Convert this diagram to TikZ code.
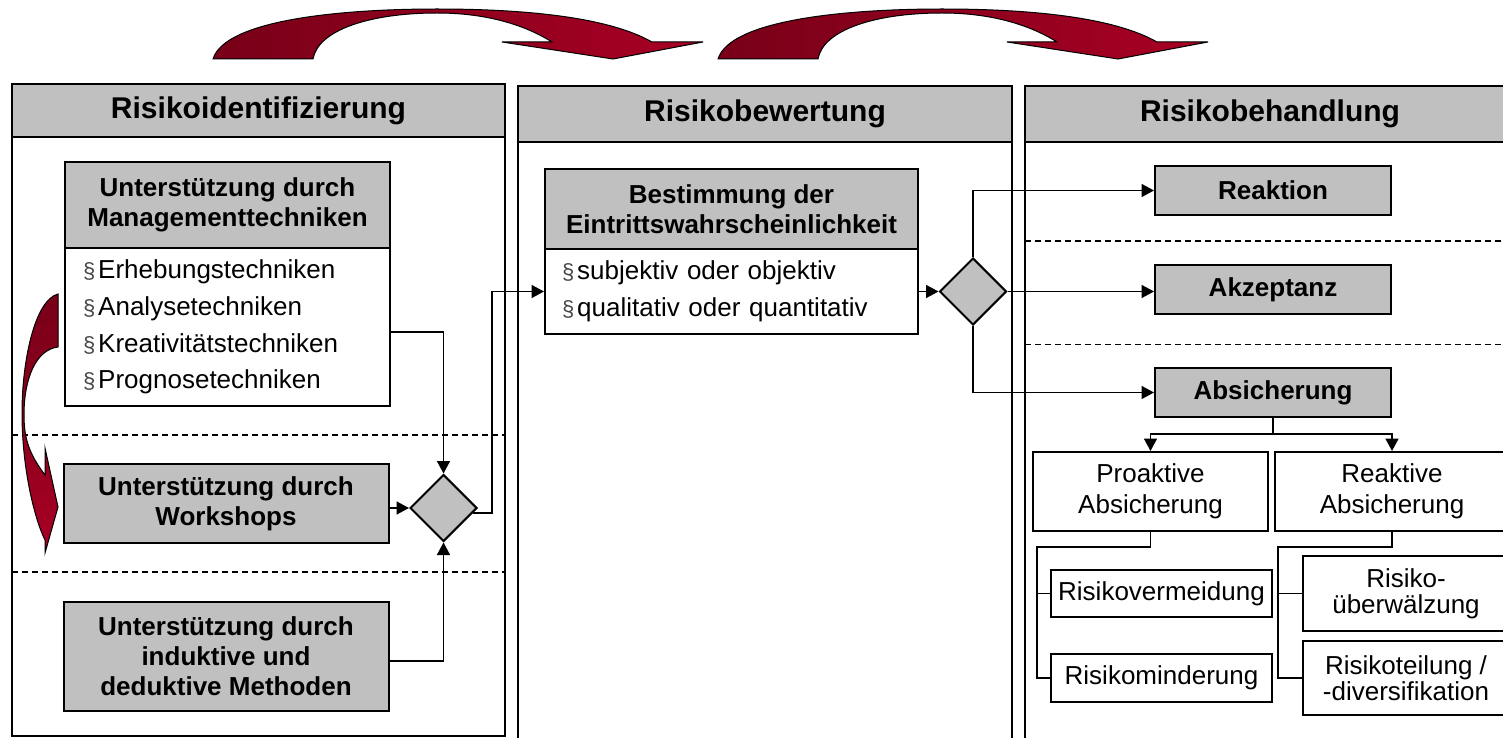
\documentclass[tikz,border=0pt]{standalone}
\usepackage{fontspec}
\setmainfont{Liberation Sans}
\usetikzlibrary{arrows.meta,shapes.geometric}
\definecolor{boxgray}{RGB}{192,192,192}
\definecolor{ribbondark}{RGB}{120,0,24}
\definecolor{ribbonlight}{RGB}{168,0,36}
\definecolor{bulgray}{RGB}{70,70,70}
\newcommand{\bulsym}{{\color{bulgray}\fontsize{22}{22}\selectfont §}\hspace{3pt}}

\begin{document}
\begin{tikzpicture}[x=1pt,y=-1pt,
  frame/.style={draw, line width=2pt},
  headbox/.style={draw, line width=2pt, fill=boxgray, inner sep=0pt,
    font=\bfseries\fontsize{30}{34}\selectfont},
  graybox/.style={draw, line width=2pt, fill=boxgray, inner sep=0pt, align=center,
    font=\bfseries\fontsize{26}{30}\selectfont},
  listbox/.style={draw, line width=2pt, fill=white, inner ysep=0pt, align=left,
    font=\fontsize{26}{36.7}\selectfont},
  plainbox/.style={draw, line width=2pt, fill=white, inner sep=0pt, align=center,
    font=\fontsize{26}{31}\selectfont},
  gate/.style={diamond, draw, line width=2pt, fill=boxgray, inner sep=0pt,
    minimum width=67pt, minimum height=67pt},
  link/.style={line width=1.6pt},
  arrowlink/.style={link, -{Triangle[length=12.5pt,width=13pt]}},
  sep/.style={line width=1.5pt, dash pattern=on 6pt off 4pt},
  ribbon/.style={draw=black, line width=1pt},
  ribbon top/.pic={
    \path[ribbon, left color=ribbondark, right color=ribbonlight]
      (213,59) .. controls (225,20) and (340,9) .. (437,9)
      .. controls (530,9) and (610,18) .. (652,42)
      -- (703,42) -- (613,59) -- (502,42) -- (552,42)
      .. controls (520,22) and (480,13) .. (437,13)
      .. controls (370,13) and (318,30) .. (313,59) -- cycle;
  }
]
\useasboundingbox (0,0) rectangle (1503,738);

% phase panels
\draw[frame] (12,84) rectangle (505,736);
\draw[frame] (518,86) rectangle (1012,760);
\draw[frame] (1025,86) rectangle (1515,760);

% lane separators
\draw[sep] (12,435) -- (505,435);
\draw[sep] (12,572) -- (505,572);
\draw[sep] (1025,241) -- (1515,241);
\draw[sep] (1025,344.5) -- (1515,344.5);

% panel headers
\node[headbox, minimum width=493pt, minimum height=53pt] (h1) at (258.5,110.5) {Risikoidentifizierung};
\node[headbox, minimum width=494pt, minimum height=56pt] (h2) at (765,114) {Risikobewertung};
\node[headbox, minimum width=490pt, minimum height=56pt] (h3) at (1270,114) {Risikobehandlung};

% identification
\node[graybox, minimum width=325pt, minimum height=86pt] (mh) at (227.5,205)
  {Unterstützung durch\\Managementtechniken};
\node[listbox, inner xsep=18pt, text width=289pt, minimum height=158pt] (mb) at (227.5,327)
  {\bulsym Erhebungstechniken\\\bulsym Analysetechniken\\\bulsym Kreativitätstechniken\\\bulsym Prognosetechniken};
\node[graybox, minimum width=325pt, minimum height=79pt] (ws) at (226,503.5)
  {Unterstützung durch\\Workshops};
\node[graybox, minimum width=325pt, minimum height=109pt] (ind) at (226,656.5)
  {Unterstützung durch\\induktive und\\deduktive Methoden};
\node[gate] (d1) at (443.5,508) {};

% assessment
\node[graybox, minimum width=373pt, minimum height=80pt] (bh) at (731.5,209)
  {Bestimmung der\\Eintrittswahrscheinlichkeit};
\node[listbox, inner xsep=17pt, text width=339pt, minimum height=85pt] (bb) at (731.5,291.5)
  {\bulsym subjektiv oder objektiv\\\bulsym qualitativ oder quantitativ};
\node[gate] (d2) at (973,291.5) {};

% treatment
\node[graybox, minimum width=236pt, minimum height=49pt] (reak) at (1273,190.5) {Reaktion};
\node[graybox, minimum width=236pt, minimum height=49pt] (akz) at (1273,289.5) {Akzeptanz};
\node[graybox, minimum width=236pt, minimum height=49pt] (abs) at (1273,392.5) {Absicherung};
\node[plainbox, minimum width=235pt, minimum height=79pt] (pro) at (1150.5,491.5) {Proaktive\\Absicherung};
\node[plainbox, minimum width=234pt, minimum height=79pt] (rea) at (1392,491.5) {Reaktive\\Absicherung};
\node[plainbox, minimum width=221pt, minimum height=47pt] (rv) at (1161.5,593.5) {Risikovermeidung};
\node[plainbox, minimum width=221pt, minimum height=48pt] (rm) at (1161.5,678) {Risikominderung};
\node[plainbox, minimum width=206pt, minimum height=75pt, font=\fontsize{26}{26}\selectfont] (ru) at (1406,593.5) {Risiko-\\überwälzung};
\node[plainbox, minimum width=206pt, minimum height=74pt, font=\fontsize{26}{26}\selectfont] (rt) at (1406,678) {Risikoteilung /\\-diversifikation};

% flow connectors
\draw[arrowlink] ([yshift=-5pt]mb.east) -| (d1.north);
\draw[arrowlink] (ws.east |- d1.west) -- (d1.west);
\draw[arrowlink] ([yshift=-4.5pt]ind.east) -| (d1.south);
\draw[arrowlink] ([xshift=-5pt,yshift=-5pt]d1.east) -- ++(19,0) |- (bb.west);
\draw[arrowlink] (bb.east) -- (d2.west);
\draw[arrowlink] (d2.north) |- (reak.west);
\draw[arrowlink] (d2.east) -- (d2.east -| akz.west);
\draw[arrowlink] (d2.south) |- (abs.west);
\draw[link, line width=2.5pt] (abs.south) -- ++(0,16) coordinate (fork);
\draw[arrowlink] (fork) -| (pro.north);
\draw[arrowlink] (fork) -| (rea.north);
\draw[link] (pro.south) -- ++(0,15) -| ([xshift=-13pt]rm.west) -- (rm.west);
\draw[link] (rv.west) -- ++(-13,0);
\draw[link] (rea.south) -- ++(0,15) -| ([xshift=-24pt]rt.west) -- (rt.west);
\draw[link] (ru.west) -- ++(-24,0);

% phase ribbons
\pic at (0,0) {ribbon top};
\pic at (505,0) {ribbon top};
\path[ribbon, top color=ribbondark, bottom color=ribbonlight]
  (58,294) .. controls (35,300) and (22,360) .. (22,413)
  .. controls (22,470) and (35,520) .. (45,540)
  -- (45,553) -- (58,507) -- (45,448) -- (45,475)
  .. controls (30,455) and (24,440) .. (24,415)
  .. controls (24,380) and (35,350) .. (58,347) -- cycle;
\end{tikzpicture}
\end{document}
